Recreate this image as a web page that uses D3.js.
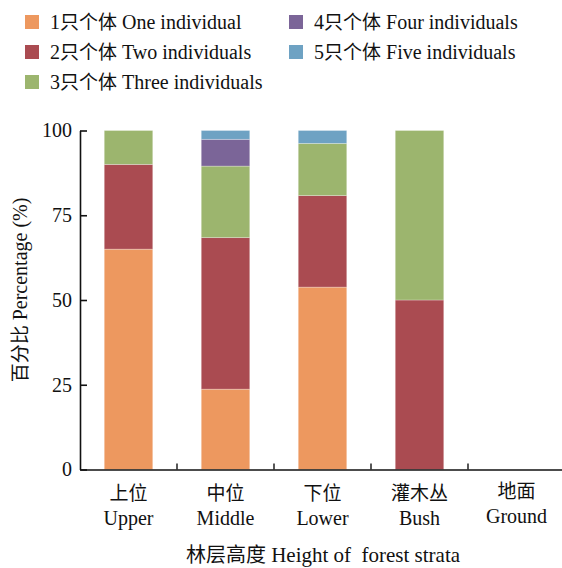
<!DOCTYPE html>
<html>
<head>
<meta charset="utf-8">
<script src="https://cdn.jsdelivr.net/npm/d3@7"></script>
<style>
  body { margin: 0; background: #fff; }
  text { font-family: "Liberation Serif", serif; fill: #111; white-space: pre; }
  .cjk { font-family: "Noto Sans CJK SC", sans-serif; }
  .lat { font-family: "Liberation Serif", serif; }
</style>
</head>
<body>
<div id="chart"></div>
<script>
// strata (x categories), two lines each
let strataCn = ['上位', '中位', '下位', '灌木丛', '地面'];
let strataEn = ['Upper', 'Middle', 'Lower', 'Bush', 'Ground'];

// series names
let seriesKeys = ['one', 'two', 'three', 'four', 'five'];
let seriesLabels = ['1只个体 One individual', '2只个体 Two individuals', '3只个体 Three individuals',
  '4只个体 Four individuals', '5只个体 Five individuals'];
let seriesColors = ['#ED985F', '#AA4B51', '#9CB56E', '#7B6598', '#6EA2C3'];

// percentages per stratum
let oneInd   = [65, 23.7, 53.8, 0, 0];
let twoInd   = [25, 44.7, 27.0, 50, 0];
let threeInd = [10, 21.1, 15.4, 50, 0];
let fourInd  = [0, 7.9, 0, 0, 0];
let fiveInd  = [0, 2.6, 3.8, 0, 0];

let yTicks = [0, 25, 50, 75, 100];

let width = 562, height = 568;
let margin = {left: 80, top: 130, bottom: 98};

let svg = d3.select('#chart').append('svg').attr('width', width).attr('height', height);

// put CJK and latin runs in their own tspans so each gets its own font
let mixedText = function(sel, str, cjkSize, latSize){
  let parts = str.match(/[\u3400-\u9fff]+|[^\u3400-\u9fff]+/g);
  parts.forEach(p => {
    let isCjk = /[\u3400-\u9fff]/.test(p);
    sel.append('tspan').attr('class', isCjk ? 'cjk' : 'lat')
      .style('font-size', (isCjk ? cjkSize : latSize) + 'px').text(p);
  });
};

let rows = strataEn.map((d, i) => ({
  key: d, one: oneInd[i], two: twoInd[i], three: threeInd[i], four: fourInd[i], five: fiveInd[i]
}));
let stacked = d3.stack().keys(seriesKeys)(rows);

let x = d3.scaleBand().domain(strataEn).range([margin.left, 565]).paddingInner(0.5).paddingOuter(0.25);
let y = d3.scaleLinear().domain([0, 100]).range([469.5, 130.5]);

// bars
stacked.forEach((layer, li) => {
  svg.append('g').selectAll('rect').data(layer).enter().append('rect')
    .attr('x', d => x(d.data.key))
    .attr('width', x.bandwidth())
    .attr('y', d => y(d[1]))
    .attr('height', d => y(d[0]) - y(d[1]))
    .attr('fill', seriesColors[li])
    .attr('stroke', '#fff').attr('stroke-opacity', 0.35).attr('stroke-width', 0.8);
});

// y axis
let yAxis = d3.axisLeft(y).tickValues(yTicks).tickSizeInner(-7).tickSizeOuter(0).tickPadding(8);
let yg = svg.append('g').attr('transform', 'translate(' + margin.left + ',0)').call(yAxis);
yg.selectAll('text').style('font-size', '20px').attr('fill', '#111');
yg.selectAll('line, path').attr('stroke', '#111').attr('stroke-width', 1.6);

// x axis
let xAxis = d3.axisBottom(x).tickSize(0).tickFormat('');
let xg = svg.append('g').attr('transform', 'translate(0,469.5)').call(xAxis);
xg.select('path').attr('stroke', '#111').attr('stroke-width', 1.6);
let step = x.step();
xg.selectAll('.bound').data(strataEn.slice(0, -1)).enter().append('line')
  .attr('x1', d => x(d) + x.bandwidth() + (step - x.bandwidth()) / 2)
  .attr('x2', d => x(d) + x.bandwidth() + (step - x.bandwidth()) / 2)
  .attr('y1', 0).attr('y2', -6)
  .attr('stroke', '#111').attr('stroke-width', 1.4);

let xl = svg.append('g').selectAll('g').data(strataEn).enter().append('g')
  .attr('transform', (d, i) => 'translate(' + (x(d) + x.bandwidth() / 2) + ',' + (i == 4 ? -2 : 0) + ')');
xl.append('text').attr('text-anchor', 'middle').attr('y', 500).attr('class', 'cjk')
  .style('font-size', '19px').text((d, i) => strataCn[i]);
xl.append('text').attr('text-anchor', 'middle').attr('y', 525).attr('class', 'lat')
  .style('font-size', '20px').text(d => d);

let xt = svg.append('text').attr('x', 323).attr('y', 562).attr('text-anchor', 'middle');
mixedText(xt, '林层高度 Height of  forest strata', 20, 21);

let yt = svg.append('text').attr('transform', 'translate(27,290) rotate(-90)').attr('text-anchor', 'middle');
mixedText(yt, '百分比 Percentage (%)', 19, 20);

// legend
let legendPos = [[25, 22], [25, 52], [25, 82], [289, 22], [289, 52]];
let lg = svg.append('g').selectAll('g').data(seriesLabels).enter().append('g')
  .attr('transform', (d, i) => 'translate(' + legendPos[i] + ')');
lg.append('rect').attr('x', 0).attr('y', -7).attr('width', 14).attr('height', 14)
  .attr('fill', (d, i) => seriesColors[i]);
lg.append('text').attr('x', 25).attr('y', 6.5).each(function(d){
  mixedText(d3.select(this), d, 19, 20);
});
</script>
</body>
</html>
